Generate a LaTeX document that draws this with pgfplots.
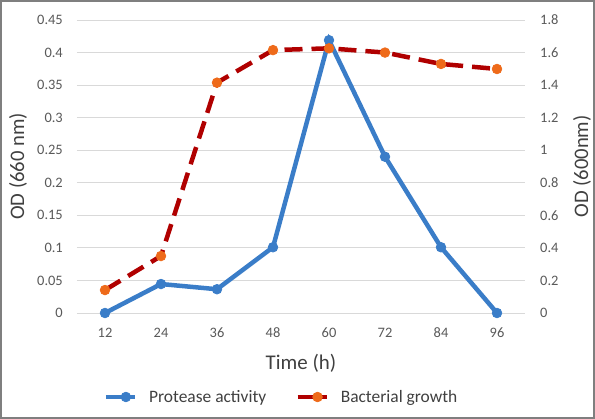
\documentclass[border=0pt]{standalone}
\usepackage{pgfplots}
\pgfplotsset{compat=1.18}
\usepackage{fontspec}
\setmainfont{Carlito}
\definecolor{pblue}{HTML}{3A7DC8}
\definecolor{gred}{HTML}{B00000}
\definecolor{gorange}{HTML}{EE6A1A}
\definecolor{gridgray}{HTML}{D9D9D9}
\definecolor{txtgray}{HTML}{595959}
\definecolor{lblgray}{HTML}{404040}
\definecolor{framegray}{HTML}{7F7F7F}
\begin{document}
\begin{tikzpicture}
\pgfplotsset{
  common/.style={
    scale only axis, width=448bp, height=293bp,
    xmin=6, xmax=102,
    xtick={12,24,36,48,60,72,84,96},
    major tick length=0pt,
    /pgf/number format/assume math mode=true,
    tick label style={font=\fontsize{14.5}{16}\selectfont, text=txtgray, inner sep=0pt},
    label style={font=\fontsize{20.7}{24}\selectfont, text=lblgray},
    legend image code/.code={\draw[mark repeat=2,mark phase=2,#1,solid] plot coordinates {(0bp,0bp) (20bp,0bp) (29bp,0bp)};},
  }
}
\begin{axis}[common,
  ymin=0, ymax=0.45,
  ytick={0,0.05,0.1,0.15,0.2,0.25,0.3,0.35,0.4,0.45},
  yticklabels={0,0.05,0.1,0.15,0.2,0.25,0.3,0.35,0.4,0.45},
  ymajorgrids, grid style={gridgray, line width=0.9bp},
  axis line style={draw=none},
  yticklabel style={anchor=east, xshift=-14bp},
  xticklabel style={anchor=center, yshift=-20bp},
  xlabel={Time (h)},
  xlabel style={at={(axis description cs:0.5,-0.1706)}, anchor=center, font=\fontsize{21}{24}\selectfont},
  ylabel={OD (660 nm)},
  ylabel style={at={(axis description cs:-0.1317,0.5)}, anchor=center, rotate=0},
  legend style={at={(axis description cs:0.4564,-0.2867)}, anchor=center, draw=none, fill=none,
    legend columns=2, font=\fontsize{17.5}{20}\selectfont, text=lblgray,
    /tikz/every odd column/.append style={column sep=10bp},
    /tikz/every even column/.append style={column sep=27bp}},
  legend cell align=left,
]
\addplot[pblue, line width=4.5bp, mark=*, mark size=4.8bp, mark options={solid, fill=pblue, draw=pblue, line width=0.8bp}]
  coordinates {(12,0) (24,0.0445) (36,0.0365) (48,0.101) (60,0.419) (72,0.240) (84,0.101) (96,0)};
\addlegendentry{Protease activity}
\addlegendimage{gred, line width=4.5bp, mark=*, mark size=4.8bp, mark options={solid, fill=gorange, draw=gorange, line width=0.8bp}}
\addlegendentry{Bacterial growth}
\end{axis}
\begin{axis}[common,
  ymin=0, ymax=1.8,
  ytick={0,0.2,0.4,0.6,0.8,1,1.2,1.4,1.6,1.8},
  yticklabels={0,0.2,0.4,0.6,0.8,1,1.2,1.4,1.6,1.8},
  axis y line*=right, axis x line=none,
  axis line style={draw=none},
  yticklabel style={anchor=west, xshift=15bp},
  ylabel={OD (600nm)},
  ylabel style={at={(axis description cs:1.1272,0.5)}, anchor=center, rotate=0},
  clip=false,
]
\addplot[gred, line width=4.5bp, dash pattern=on 18bp off 9bp, mark=*, mark size=4.8bp, mark options={solid, fill=gorange, draw=gorange, line width=0.8bp}]
  coordinates {(12,0.141) (24,0.350) (36,1.415) (48,1.615) (60,1.626) (72,1.600) (84,1.530) (96,1.499)};
\draw[framegray, line width=2bp] ([shift={(-76bp,-105bp)}]rel axis cs:0,0) rectangle ([shift={(69bp,19bp)}]rel axis cs:1,1);
\end{axis}
\end{tikzpicture}
\end{document}
